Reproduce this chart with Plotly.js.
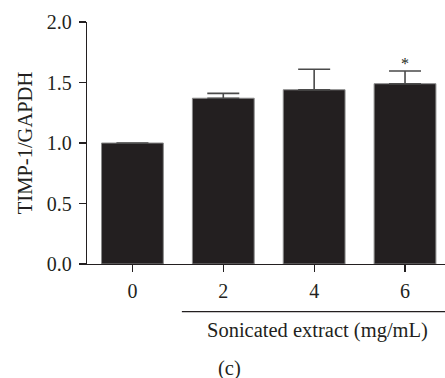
<!DOCTYPE html>
<html>
<head>
<meta charset="utf-8">
<script src="https://cdn.plot.ly/plotly-3.0.1.min.js"></script>
<style>html,body{margin:0;padding:0;background:#fff;}#chart{width:445px;height:378px;}</style>
</head>
<body>
<div id="chart"></div>
<script>
const categories = ['0', '2', '4', '6'];
const values = [1.00, 1.37, 1.44, 1.49];
const errUpper = [0.0, 0.04, 0.17, 0.105];
const yTicks = [0, 0.5, 1.0, 1.5, 2.0];
const yTickLabels = ['0.0', '0.5', '1.0', '1.5', '2.0'];
const sigIndex = 3;
const sigMark = '*';

const fam = 'Liberation Serif, Times New Roman, serif';
const tickFont = {family: fam, size: 20, color: '#231f20'};
const labelFont = {family: fam, size: 20.5, color: '#231f20'};

const trace = {
  type: 'bar',
  x: categories,
  y: values,
  width: 0.68,
  marker: {color: '#231f20', line: {color: '#8a8a8a', width: 1}},
  error_y: {type: 'data', symmetric: false, array: errUpper, arrayminus: errUpper.map(() => 0),
            color: '#4a4a4a', thickness: 1.6, width: 16},
  hoverinfo: 'none'
};

const layout = {
  width: 445, height: 378,
  margin: {l: 87, r: 0, t: 22, b: 114},
  paper_bgcolor: '#fff', plot_bgcolor: '#fff',
  showlegend: false,
  font: tickFont,
  xaxis: {
    type: 'category', range: [-0.5, 3.44],
    showline: true, linecolor: '#231f20', linewidth: 1.2,
    ticks: 'outside', ticklen: 7, tickwidth: 1.2, tickcolor: '#231f20',
    ticklabelstandoff: 2,
    tickfont: tickFont, showgrid: false, zeroline: false, fixedrange: true
  },
  yaxis: {
    range: [0, 2.0],
    tickvals: yTicks, ticktext: yTickLabels,
    showline: true, linecolor: '#231f20', linewidth: 1.2,
    ticks: 'outside', ticklen: 7, tickwidth: 1.2, tickcolor: '#231f20',
    ticklabelstandoff: 3,
    tickfont: tickFont, showgrid: false, zeroline: false, fixedrange: true,
    title: {text: 'TIMP-1/GAPDH', font: labelFont, standoff: 8}
  },
  shapes: [
    {type: 'line', xref: 'paper', yref: 'paper', x0: 0.265, x1: 1, y0: -0.197, y1: -0.197,
     line: {color: '#231f20', width: 1.2}}
  ],
  annotations: [
    {x: sigIndex, y: values[sigIndex] + errUpper[sigIndex], xref: 'x', yref: 'y',
     text: sigMark, showarrow: false, xanchor: 'center', yanchor: 'bottom', yshift: -3,
     font: {family: fam, size: 16, color: '#231f20'}},
    {xref: 'paper', yref: 'paper', x: 0.643, y: -0.275, text: 'Sonicated extract (mg/mL)',
     showarrow: false, font: labelFont, xanchor: 'center', yanchor: 'middle'},
    {xref: 'paper', yref: 'paper', x: 0.399, y: -0.43, text: '(c)',
     showarrow: false, font: labelFont, xanchor: 'center', yanchor: 'middle'}
  ]
};

Plotly.newPlot('chart', [trace], layout, {displayModeBar: false, staticPlot: true});
</script>
</body>
</html>
